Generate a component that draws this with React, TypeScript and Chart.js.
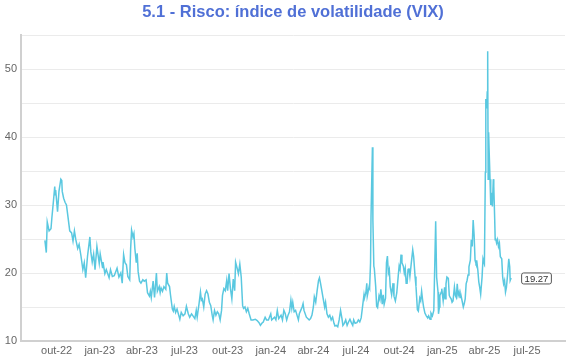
import React, { useEffect, useRef } from 'react';
import { Chart, registerables } from 'chart.js';

Chart.register(...registerables);

const TITLE = '5.1 - Risco: índice de volatilidade (VIX)';

// Daily VIX closes (MM-DD per year)
const dates2022 = ['09-06','09-09','09-11','09-15','09-19','09-21','09-24','09-27','09-28','09-29','10-01','10-03','10-06','10-10','10-12','10-13','10-16','10-19','10-22','10-25','10-29','11-02','11-05','11-08','11-11','11-15','11-18','11-22','11-26','11-29','12-02','12-06','12-11','12-13','12-16','12-19','12-22','12-26','12-31'];
const vix2022 = [24.8,23.0,27.5,26.2,26.5,28.2,30.4,32.7,31.5,32.2,30.6,29.0,32.0,33.8,33.6,32.0,31.0,30.4,30.0,28.4,26.2,25.9,24.7,26.2,24.9,23.6,24.2,22.5,20.5,21.5,19.3,22.5,25.3,23.1,21.6,22.8,20.5,23.9,21.4];

const dates2023 = ['01-02','01-07','01-08','01-12','01-15','01-21','01-24','01-28','02-01','02-07','02-11','02-15','02-18','02-21','02-24','02-27','03-02','03-06','03-08','03-10','03-13','03-15','03-17','03-20','03-22','03-24','03-27','03-30','04-03','04-06','04-10','04-13','04-17','04-19','04-21','04-25','04-28','05-02','05-04','05-08','05-10','05-12','05-15','05-18','05-22','05-24','05-26','05-30','06-01','06-05','06-07','06-09','06-12','06-15','06-19','06-21','06-24','06-28','07-02','07-05','07-09','07-12','07-16','07-19','07-23','07-26','07-28','08-01','08-04','08-06','08-08','08-11','08-14','08-17','08-20','08-23','08-26','08-29','08-31','09-03','09-06','09-09','09-12','09-15','09-18','09-20','09-23','09-26','09-29','10-01','10-04','10-07','10-10','10-13','10-16','10-18','10-21','10-24','10-27','10-30','11-02','11-04','11-07','11-10','11-13','11-16','11-20','11-24','11-29','12-03','12-07','12-10','12-13','12-16','12-20','12-23','12-27'];
const vix2023 = [22.8,20.8,21.6,19.9,20.5,19.3,20.5,19.5,19.6,20.7,19.4,20.0,18.5,22.7,21.5,21.2,19.5,19.0,23.6,26.3,25.3,25.8,23.6,21.5,22.9,20.2,18.8,18.5,19.0,18.8,19.0,17.1,16.6,17.3,16.4,18.8,16.4,20.0,17.3,18.0,17.1,17.8,17.3,18.0,17.6,20.0,18.5,18.0,16.8,14.7,14.4,15.1,14.2,14.7,13.7,13.2,14.2,13.7,14.0,15.1,14.0,13.5,14.0,13.7,13.3,14.5,13.5,15.5,17.2,16.0,16.2,15.0,16.9,17.4,16.9,15.7,15.2,13.8,13.1,14.5,13.8,14.3,14.0,13.1,14.5,16.7,17.7,17.4,18.9,17.4,19.9,17.7,16.2,19.1,17.4,21.6,20.8,19.9,21.3,19.4,15.2,14.8,15.0,14.3,14.8,14.0,13.1,13.1,13.2,13.0,12.7,12.3,12.6,12.8,13.5,13.1,13.1];

const dates2024 = ['01-01','01-03','01-09','01-12','01-15','01-18','01-20','01-23','01-26','01-29','02-01','02-04','02-07','02-10','02-13','02-15','02-17','02-20','02-23','02-26','02-29','03-02','03-05','03-08','03-10','03-12','03-14','03-17','03-20','03-23','03-26','03-29','04-01','04-03','04-06','04-09','04-12','04-14','04-16','04-19','04-22','04-25','04-27','04-30','05-03','05-06','05-09','05-12','05-15','05-17','05-20','05-23','05-26','05-29','06-01','06-03','06-06','06-09','06-12','06-15','06-18','06-21','06-24','06-26','06-29','07-03','07-06','07-09','07-12','07-15','07-18','07-19','07-22','07-24','07-25','07-29','07-30','08-01','08-02','08-05','08-06','08-08','08-09','08-12','08-14','08-16','08-19','08-21','08-23','08-26','08-28','08-30','09-02','09-04','09-06','09-08','09-10','09-12','09-15','09-18','09-20','09-23','09-26','09-29','10-01','10-03','10-05','10-07','10-10','10-12','10-14','10-16','10-18','10-20','10-22','10-24','10-27','10-30','11-01','11-04','11-06','11-09','11-11','11-14','11-16','11-18','11-20','11-22','11-25','11-28','12-01','12-03','12-06','12-08','12-11','12-14','12-18','12-20','12-23','12-24','12-26','12-27','12-30','12-31'];
const vix2024 = [14.0,13.1,13.5,13.1,14.5,13.3,13.5,13.8,13.1,14.5,14.0,13.1,13.8,14.3,16.0,14.8,15.7,14.3,14.5,13.8,13.1,14.0,14.5,15.0,15.5,14.5,14.5,13.5,13.3,13.1,13.3,13.8,15.0,16.5,15.7,17.4,18.9,19.3,18.6,17.4,16.2,15.0,15.7,14.0,13.5,13.8,13.1,13.5,12.6,12.2,12.3,12.1,13.1,14.5,13.3,12.3,12.6,13.1,12.3,12.8,13.2,12.7,12.3,13.1,12.6,12.7,13.1,12.8,13.4,15.1,16.8,16.3,17.1,18.5,16.6,18.0,17.8,21.5,28.3,38.5,27.8,21.0,20.7,18.0,15.1,14.9,16.6,16.1,17.6,15.4,16.8,15.4,16.3,21.5,22.5,20.0,20.5,18.0,16.8,18.5,16.6,15.9,17.1,19.5,21.0,20.5,22.7,21.5,21.0,20.0,20.7,18.5,18.5,20.5,20.7,19.5,21.5,23.4,22.4,19.5,18.0,14.6,14.4,16.3,15.9,17.3,16.1,15.1,14.1,13.7,13.4,13.7,13.2,14.1,13.7,14.5,27.6,19.4,17.2,14.0,15.0,16.7,17.2,17.7];

const dates2025 = ['01-03','01-06','01-07','01-09','01-11','01-14','01-16','01-18','01-20','01-22','01-24','01-27','01-29','01-31','02-02','02-04','02-06','02-08','02-10','02-13','02-15','02-17','02-19','02-21','02-23','02-25','02-27','03-02','03-04','03-06','03-08','03-10','03-12','03-14','03-16','03-18','03-20','03-22','03-24','03-27','03-29','03-31','04-01','04-03','04-04','04-06','04-07','04-08','04-09','04-10','04-11','04-13','04-14','04-15','04-17','04-18','04-20','04-21','04-23','04-24','04-25','04-27','04-29','05-01','05-03','05-05','05-08','05-10','05-12','05-14','05-16','05-18','05-20','05-23','05-25','05-26','05-28'];
const vix2025 = [15.9,17.9,16.2,18.4,19.4,19.2,16.7,16.4,16.2,15.7,15.9,17.9,16.7,16.4,18.4,16.7,17.2,16.4,16.7,15.7,15.0,15.5,16.2,18.4,18.9,19.7,20.9,21.9,24.9,23.9,27.8,25.6,21.9,21.4,21.6,20.4,18.7,17.9,16.9,19.4,22.1,21.6,21.4,34.8,45.6,44.2,46.6,52.6,33.8,40.7,38.2,33.8,32.8,30.0,31.8,29.8,33.8,32.8,27.8,24.9,25.1,24.4,24.9,23.9,24.4,22.4,22.1,19.4,18.4,18.9,17.2,17.9,19.4,22.1,20.9,18.9,19.27];

// Axis ticks
const tickDates = ['2022-10-01','2023-01-01','2023-04-01','2023-07-01','2023-10-01','2024-01-01','2024-04-01','2024-07-01','2024-10-01','2025-01-01','2025-04-01','2025-07-01'];
const tickLabels = ['out-22','jan-23','abr-23','jul-23','out-23','jan-24','abr-24','jul-24','out-24','jan-25','abr-25','jul-25'];
const X_MIN = '2022-07-17';
const X_MAX = '2025-09-20';
const Y_MIN = 10;
const Y_MAX = 55;
const Y_STEP = 5;

const FONT = '"Liberation Sans", Arial, Helvetica, sans-serif';

function toDay(s: string): number {
  const [y, m, d] = s.split('-').map(Number);
  return Date.UTC(y, m - 1, d) / 86400000;
}

export default function App() {
  const ref = useRef<HTMLCanvasElement>(null);

  useEffect(() => {
    document.body.style.margin = '0';
    const years: [number, string[], number[]][] = [
      [2022, dates2022, vix2022],
      [2023, dates2023, vix2023],
      [2024, dates2024, vix2024],
      [2025, dates2025, vix2025],
    ];
    const points: { x: number; y: number }[] = [];
    years.forEach(([yr, ds, vs]) => {
      ds.forEach((md, i) => points.push({ x: toDay(`${yr}-${md}`), y: vs[i] }));
    });

    const titlePlugin = {
      id: 'centerTitle',
      afterDraw(chart: any) {
        const { ctx, chartArea } = chart;
        ctx.save();
        ctx.font = `bold 16.5px ${FONT}`;
        ctx.fillStyle = '#5070d6';
        ctx.textAlign = 'center';
        ctx.textBaseline = 'middle';
        ctx.fillText(TITLE, (chartArea.left + chartArea.right) / 2, 12);
        ctx.restore();
      },
    };

    const lastLabelPlugin = {
      id: 'lastLabel',
      afterDatasetsDraw(chart: any) {
        const meta = chart.getDatasetMeta(0);
        const el = meta.data[meta.data.length - 1];
        const val = points[points.length - 1].y;
        const { ctx } = chart;
        const text = val.toFixed(2);
        ctx.save();
        ctx.font = `9.5px ${FONT}`;
        const w = ctx.measureText(text).width + 6;
        const h = 11;
        const x = el.x + 10;
        const y = el.y - h / 2;
        ctx.beginPath();
        if (ctx.roundRect) ctx.roundRect(x + 0.5, y + 0.5, w, h, 2);
        else ctx.rect(x + 0.5, y + 0.5, w, h);
        ctx.fillStyle = '#ffffff';
        ctx.fill();
        ctx.strokeStyle = '#555555';
        ctx.lineWidth = 1;
        ctx.stroke();
        ctx.fillStyle = '#333333';
        ctx.textAlign = 'center';
        ctx.textBaseline = 'middle';
        ctx.fillText(text, x + 0.5 + w / 2, el.y + 1);
        ctx.restore();
      },
    };

    const chart = new Chart(ref.current as HTMLCanvasElement, {
      type: 'line',
      data: {
        datasets: [
          {
            label: 'VIX',
            data: points,
            borderColor: '#5ac8e0',
            borderWidth: 1.5,
            pointRadius: 0,
            tension: 0,
            fill: false,
          },
        ],
      },
      options: {
        animation: false,
        responsive: false,
        layout: { padding: { top: 35, right: 5, bottom: 0, left: 0 } },
        plugins: {
          legend: { display: false },
          title: { display: false },
          tooltip: { enabled: false },
        },
        scales: {
          x: {
            type: 'linear',
            min: toDay(X_MIN),
            max: toDay(X_MAX),
            grid: { display: false, drawTicks: false },
            border: { display: true, color: '#d0d0d0', width: 2 },
            afterBuildTicks: (scale: any) => {
              scale.ticks = tickDates.map((d) => ({ value: toDay(d) }));
            },
            afterFit: (scale: any) => {
              scale.height = 19;
            },
            ticks: {
              autoSkip: false,
              maxRotation: 0,
              padding: 3,
              color: '#666',
              font: { family: FONT, size: 11 },
              callback: (_v: any, i: number) => tickLabels[i],
            },
          },
          y: {
            min: Y_MIN,
            max: Y_MAX,
            grid: { color: '#ebebeb', lineWidth: 1, drawTicks: false },
            border: { display: true, color: '#d0d0d0', width: 2 },
            afterFit: (scale: any) => {
              scale.width = 21;
            },
            ticks: {
              stepSize: Y_STEP,
              autoSkip: false,
              padding: 4,
              color: '#666',
              font: { family: FONT, size: 11 },
              callback: (v: any) => (Number(v) % 10 === 0 ? String(v) : ''),
            },
          },
        },
      },
      plugins: [titlePlugin, lastLabelPlugin],
    });
    return () => chart.destroy();
  }, []);

  return (
    <div style={{ width: 570, height: 360 }}>
      <canvas ref={ref} width={570} height={360} style={{ display: 'block' }} />
    </div>
  );
}
